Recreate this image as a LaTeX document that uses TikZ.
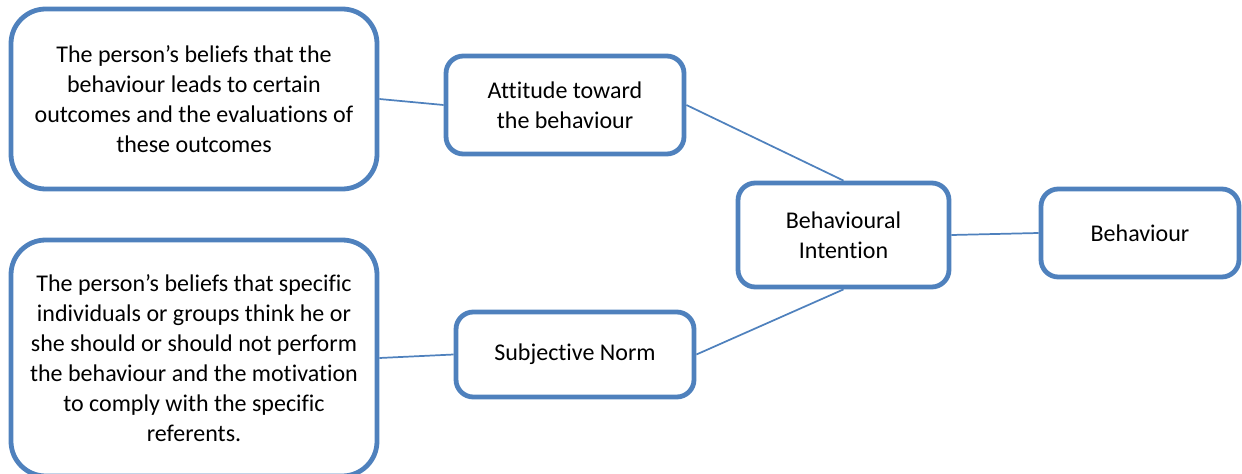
\documentclass[tikz,border=0pt]{standalone}
\usepackage{fontspec}
\setmainfont[Ligatures=NoCommon]{Carlito}
\definecolor{boxblue}{RGB}{79,129,189}

\begin{document}
\begin{tikzpicture}[x=0.75pt,y=0.75pt,
  every node/.style={font=\fontsize{18}{22.4}\selectfont},
  bigbox/.style={draw=boxblue,line width=3.6pt,rounded corners=26pt,
    align=center,inner sep=0pt,minimum width=274.5pt},
  smallbox/.style={draw=boxblue,line width=3.6pt,rounded corners=13pt,
    align=center,inner sep=0pt},
  link/.style={draw=boxblue,line width=1.3pt}]
\useasboundingbox (0,0) rectangle (1242,-474);
% belief boxes
\node[bigbox,minimum height=135pt] (attbelief) at (194,-99)
  {The person's beliefs that the\\behaviour leads to certain\\outcomes and the evaluations of\\these outcomes};
\node[bigbox,minimum height=177pt] (normbelief) at (194,-358)
  {The person's beliefs that specific\\individuals or groups think he or\\she should or should not perform\\the behaviour and the motivation\\to comply with the specific\\referents.};
% constructs
\node[smallbox,minimum width=178.5pt,minimum height=73.5pt] (attitude) at (565,-105) {Attitude toward\\the behaviour};
\node[smallbox,minimum width=178.5pt,minimum height=63.75pt] (norm) at (575,-354.5) {Subjective Norm};
\node[smallbox,minimum width=158.25pt,minimum height=78pt] (intention) at (843.5,-235) {Behavioural\\Intention};
\node[smallbox,minimum width=148.5pt,minimum height=66pt] (behaviour) at (1140,-233) {Behaviour};
% connectors
\draw[link] (attbelief.east) -- (attitude.west);
\draw[link] (normbelief.east) -- (norm.west);
\draw[link] (attitude.east) -- (intention.north);
\draw[link] (norm.east) -- (intention.south);
\draw[link] (intention.east) -- (behaviour.west);
\end{tikzpicture}
\end{document}
